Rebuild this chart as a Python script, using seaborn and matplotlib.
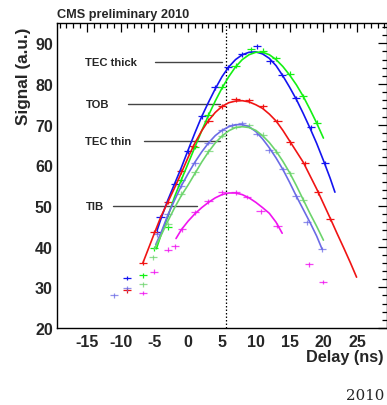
import numpy as np
import pandas as pd
import matplotlib
matplotlib.use("Agg")
import matplotlib.pyplot as plt
from matplotlib.ticker import MultipleLocator
import seaborn as sns

# ---------------- data ----------------
# fitted pulse-shape curves
blue_x = [-4.6, -4, -3, -2, -1, 0, 1, 2, 3, 4, 5, 6, 7, 8, 9, 10, 11, 12, 13, 14, 15, 16, 17, 18, 19, 20, 21, 21.7]
blue_y = [44, 47, 51.5, 55.5, 59.5, 63.8, 68, 72, 75.5, 78.8, 81.8, 84.2, 86, 87.2, 87.8, 87.9, 87.4, 86.3, 84.5, 82, 79.2, 76.2, 72.8, 69.2, 65.4, 61.2, 56.8, 53.4]

green_x = [-4.7, -4, -3, -2, -1, 0, 1, 2, 3, 4, 5, 6, 7, 8, 9, 10, 11, 12, 13, 14, 15, 16, 17, 18, 19, 20]
green_y = [39.5, 43, 47.5, 52.3, 56.5, 60.5, 64.5, 68.5, 72.3, 75.8, 79, 81.8, 84.2, 86, 87.2, 87.8, 87.8, 87.2, 86, 84.3, 82.2, 79.8, 77, 73.8, 70.4, 66.7]

red_x = [-6.7, -6, -5, -4, -3, -2, -1, 0, 1, 2, 3, 4, 5, 6, 7, 8, 9, 10, 11, 12, 13, 14, 15, 16, 17, 18, 19, 20, 21, 22, 23, 24, 24.9]
red_y = [36, 39, 43.3, 47.5, 51, 54.5, 58.2, 62, 65.5, 68.5, 71, 73, 74.5, 75.4, 75.8, 75.9, 75.6, 74.9, 74, 72.6, 70.9, 68.6, 66, 63.4, 60.8, 57.5, 54.2, 50.6, 47, 43.3, 39.7, 36, 32.5]

slate_x = [-4.8, -4, -3, -2, -1, 0, 1, 2, 3, 4, 5, 6, 7, 8, 9, 10, 11, 12, 13, 14, 15, 16, 17, 18, 19, 19.8]
slate_y = [40.5, 43.5, 47.8, 51.5, 55, 58, 60.8, 63.3, 65.5, 67.3, 68.6, 69.5, 70, 70, 69.5, 68.3, 66.5, 64.3, 61.8, 59, 55.8, 52.4, 49.2, 46, 42.6, 39.4]

lgreen_x = [-5, -4, -3, -2, -1, 0, 1, 2, 3, 4, 5, 6, 7, 8, 9, 10, 11, 12, 13, 14, 15, 16, 17, 18, 19, 20]
lgreen_y = [39.4, 42.8, 46.3, 49.6, 52.6, 55.2, 58, 60.8, 63.3, 65.5, 67.2, 68.5, 69.3, 69.5, 69.3, 68.6, 67.3, 65.6, 63.5, 61, 58.2, 55, 51.6, 48.2, 45, 41.6]

mag_x = [-1.8, -1, 0, 1, 2, 3, 4, 5, 6, 7, 8, 9, 10, 11, 12, 13, 13.9]
mag_y = [42, 44.2, 46.3, 48.1, 49.6, 50.9, 52, 52.8, 53.2, 53.2, 52.8, 52, 50.9, 49.6, 48.2, 46.0, 43.3]

# measured points (crosses)
blue_px = [-9, -4.6, -4.1, -2, 0, 2.1, 4, 5.9, 8, 10.2, 12.1, 13.9, 16, 18.2, 20.2]
blue_py = [32.3, 43.6, 47.3, 55.5, 63.5, 72.1, 79.2, 84.1, 87.3, 89.3, 85.6, 82.2, 76.5, 69.4, 60.5]

green_px = [-6.7, -5, -3, -1, 1, 3, 5, 7, 9.3, 11, 13, 15, 17, 19]
green_py = [33, 39.6, 44.8, 56.5, 64.5, 72.5, 79.3, 84.5, 88.5, 88.2, 86.3, 82.5, 77, 70.5]

red_px = [-9, -6.7, -5, -3, -1, 0.7, 3, 5, 7, 9, 11, 13.2, 15.1, 17.3, 19.2, 21]
red_py = [29.3, 36, 43.6, 51, 58.5, 64.7, 71, 74.5, 76.2, 76, 74.5, 70.9, 65.7, 60.5, 53.4, 46.8]

slate_px = [-11, -9, -4.6, -3, -1, 1, 3, 5, 6.5, 8, 10.2, 12, 14, 16, 17.6, 19.8]
slate_py = [28.1, 29.8, 43, 48, 55, 60.5, 65.5, 68.6, 69.8, 70.3, 67.7, 63.7, 59.1, 52.4, 46, 39.4]

lgreen_px = [-6.7, -5.2, -3, -1, 1, 3, 5, 7, 9, 11, 13, 15, 17]
lgreen_py = [30.8, 37.4, 45.5, 53, 58.3, 63.5, 67.3, 69.5, 69.8, 67.5, 63.3, 58, 51.5]

mag_px = [-6.7, -5, -3, -2, -0.9, 1, 3, 5, 7, 8.7, 10.7, 13.2, 17.8, 20]
mag_py = [28.6, 33.8, 39.2, 40.1, 44.3, 48.5, 51.2, 53.4, 53.4, 52.2, 48.7, 45.1, 35.7, 31.3]

# labels
label_text = ["TEC thick", "TOB", "TEC thin", "TIB"]
label_y = [85.5, 75.2, 65.9, 50.1]
label_line_x0 = [-4.9, -8.9, -6.5, -11.1]
label_line_x1 = [5.0, 4.7, 4.7, 1.3]
delay_ref = 5.6

# ---------------- styling ----------------
sns.set_style("white")
plt.rcParams["font.family"] = ["Liberation Sans", "DejaVu Sans"]
plt.rcParams["font.weight"] = "bold"

colors = {"blue": "#1414f0", "green": "#14f014", "red": "#f01414",
          "slate": "#6b6be6", "lgreen": "#6cd46c", "mag": "#f014f0"}

fig = plt.figure(figsize=(3.87, 4.06), dpi=100)
ax = fig.add_axes([57 / 387, 77 / 406, 330 / 387, 305 / 406])

curves = [("blue", blue_x, blue_y), ("green", green_x, green_y), ("red", red_x, red_y),
          ("slate", slate_x, slate_y), ("lgreen", lgreen_x, lgreen_y), ("mag", mag_x, mag_y)]
df = pd.concat([pd.DataFrame({"delay": x, "signal": y, "series": name}) for name, x, y in curves],
               ignore_index=True)
sns.lineplot(data=df, x="delay", y="signal", hue="series", palette=colors,
             estimator=None, sort=True, lw=1.2, legend=False, ax=ax, zorder=3)

points = [("blue", blue_px, blue_py, 1.0), ("green", green_px, green_py, 1.0),
          ("red", red_px, red_py, 1.0), ("slate", slate_px, slate_py, 0.75),
          ("lgreen", lgreen_px, lgreen_py, 0.75), ("mag", mag_px, mag_py, 0.8)]
for name, px, py, a in points:
    ax.errorbar(px, py, xerr=0.6, yerr=0.6, fmt="none", ecolor=colors[name],
                elinewidth=0.9, capsize=0, alpha=a, zorder=2)

ax.axvline(delay_ref, color="black", ls=(0, (1.2, 1.6)), lw=0.9, zorder=1)

for t, y, x0, x1 in zip(label_text, label_y, label_line_x0, label_line_x1):
    ax.plot([x0, x1], [y, y], color="#444444", lw=1.0, zorder=1)
    ax.text(-15.2, y, t, fontsize=8.1, fontweight="bold", ha="left", va="center")

ax.set_xlim(-19.4, 29.4)
ax.set_ylim(20, 95)
ax.xaxis.set_major_locator(MultipleLocator(5))
ax.xaxis.set_minor_locator(MultipleLocator(1))
ax.yaxis.set_major_locator(MultipleLocator(10))
ax.yaxis.set_minor_locator(MultipleLocator(2))
ax.tick_params(which="both", direction="in", top=True, right=True, color="black", width=0.9)
ax.tick_params(which="major", length=6.5)
ax.tick_params(which="minor", length=3.5)
ax.tick_params(axis="x", labelsize=11.5, pad=4)
ax.tick_params(axis="y", labelsize=11.5, pad=3)
ax.set_xticks([-15, -10, -5, 0, 5, 10, 15, 20, 25])
ax.set_xticklabels(["-15", "-10", "-5", "0", "5", "10", "15", "20", "25"], fontweight="bold")
ax.set_yticks([20, 30, 40, 50, 60, 70, 80, 90])
ax.set_yticklabels(["20", "30", "40", "50", "60", "70", "80", "90"], fontweight="bold")
ax.set_xlabel("")
ax.set_ylabel("")
for s in ax.spines.values():
    s.set_color("black")
    s.set_linewidth(1.0)

fig.text(24 / 387, 1 - 28 / 406, "Signal (a.u.)", rotation=90, fontsize=12.3,
         fontweight="bold", ha="center", va="top")
fig.text(383 / 387, 1 - 358 / 406, "Delay (ns)", fontsize=11.7, fontweight="bold",
         ha="right", va="center")
fig.text(57 / 387, 1 - 15 / 406, "CMS preliminary 2010", fontsize=9.2, fontweight="bold",
         ha="left", va="center")
fig.text(384 / 387, 1 - 396 / 406, "2010", fontsize=10.8, fontweight="normal",
         family="DejaVu Serif", ha="right", va="center")

fig.savefig("out.png", dpi=100)
